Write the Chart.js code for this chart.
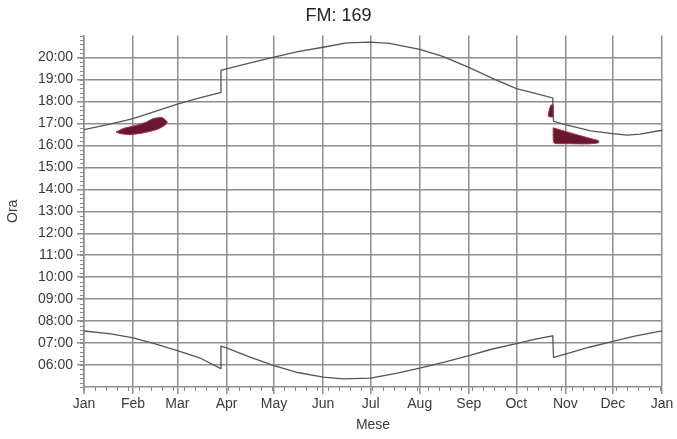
<!DOCTYPE html>
<html><head><meta charset="utf-8">
<script src="https://cdn.jsdelivr.net/npm/chart.js@4"></script>
<style>html,body{margin:0;padding:0;background:#fff}#wrap{width:677px;height:439px}</style>
</head><body><div id="wrap"><canvas id="c" width="677" height="439"></canvas></div>
<script>
const chartTitle = 'FM: 169';
const monthLabels = ['Jan','Feb','Mar','Apr','May','Jun','Jul','Aug','Sep','Oct','Nov','Dec','Jan'];
const monthStartDays = [0,31,59,90,120,151,181,212,243,273,304,334,365];
const hourTicks = [6,7,8,9,10,11,12,13,14,15,16,17,18,19,20];
const hourLabels = ['06:00','07:00','08:00','09:00','10:00','11:00','12:00','13:00','14:00','15:00','16:00','17:00','18:00','19:00','20:00'];

const sunsetDays  = [0, 15, 31, 45, 59, 73, 86, 86.5, 90, 105, 120, 135, 151, 166, 181, 193, 212, 227, 243, 258, 273, 285, 296, 296.5, 304, 320, 335, 343, 351, 365];
const sunsetHours = [16.72, 16.95, 17.22, 17.55, 17.88, 18.17, 18.40, 19.42, 19.48, 19.76, 20.02, 20.27, 20.47, 20.67, 20.70, 20.65, 20.37, 20.04, 19.55, 19.05, 18.59, 18.37, 18.16, 17.10, 16.95, 16.66, 16.53, 16.47, 16.51, 16.69];

const sunriseDays  = [0, 17, 31, 45, 59, 73, 86, 86.5, 90, 104, 120, 135, 151, 164, 181, 197, 212, 227, 243, 258, 273, 285, 296, 296.5, 304, 319, 334, 347, 365];
const sunriseHours = [7.55, 7.42, 7.24, 6.96, 6.66, 6.33, 5.85, 6.86, 6.78, 6.38, 5.97, 5.66, 5.45, 5.37, 5.40, 5.62, 5.86, 6.12, 6.43, 6.73, 6.98, 7.18, 7.33, 6.35, 6.50, 6.81, 7.08, 7.30, 7.56];

const blobFebDays  = [20.2, 24.8, 33.3, 39.6, 43.8, 49.1, 52.6, 51.1, 45.9, 37.4, 29.0, 22.7, 20.2];
const blobFebHours = [16.61, 16.77, 16.92, 17.07, 17.22, 17.27, 17.07, 16.92, 16.72, 16.57, 16.49, 16.54, 16.61];

const blobOctDays  = [294.7, 296.2, 296.2, 293.2, 293.6, 294.7];
const blobOctHours = [17.83, 17.85, 17.30, 17.33, 17.55, 17.83];

const blobNovDays  = [296.3, 300, 304.8, 312.1, 319.5, 324.8, 325, 318, 305, 297, 296.3, 296.3];
const blobNovHours = [16.80, 16.72, 16.62, 16.47, 16.32, 16.22, 16.12, 16.07, 16.08, 16.10, 16.30, 16.80];

const pts = (xs, ys) => xs.map((x, i) => ({x, y: ys[i]}));

const FONT = "'Liberation Sans', Arial, sans-serif";
const GRID = '#8e8e8e';

const minorTicks = {
  id: 'minorTicks',
  afterDraw(chart) {
    const {ctx, scales: {x, y}} = chart;
    ctx.save();
    ctx.strokeStyle = '#8a8a8a';
    ctx.lineWidth = 1;
    ctx.beginPath();
    for (let h = 5; h <= 21.0001; h += 0.2) {
      const py = Math.round(y.getPixelForValue(h)) + 0.5;
      ctx.moveTo(x.left - 4, py); ctx.lineTo(x.left, py);
    }
    for (let d = 0; d <= 365; d += 7) {
      const px = Math.round(x.getPixelForValue(d)) + 0.5;
      ctx.moveTo(px, y.bottom); ctx.lineTo(px, y.bottom + 4);
    }
    ctx.stroke();
    ctx.restore();
  }
};

const lineDs = (data) => ({data, borderColor: '#555', borderWidth: 1.3, pointRadius: 0, fill: false, tension: 0});
const blobDs = (data) => ({data, borderColor: '#a8304f', backgroundColor: '#6a1830', borderWidth: 1, pointRadius: 0, fill: 'shape', tension: 0.2});

new Chart(document.getElementById('c'), {
  type: 'line',
  data: {
    datasets: [
      lineDs(pts(sunsetDays, sunsetHours)),
      lineDs(pts(sunriseDays, sunriseHours)),
      blobDs(pts(blobFebDays, blobFebHours)),
      blobDs(pts(blobOctDays, blobOctHours)),
      blobDs(pts(blobNovDays, blobNovHours))
    ]
  },
  options: {
    responsive: false,
    animation: false,
    layout: {padding: 0},
    plugins: {
      legend: {display: false},
      tooltip: {enabled: false},
      title: {display: true, text: chartTitle, color: '#222', font: {family: FONT, size: 18, weight: 'normal'}, padding: {top: 5, bottom: 9}}
    },
    scales: {
      x: {
        type: 'linear', min: 0, max: 365,
        afterBuildTicks: s => { s.ticks = monthStartDays.map(v => ({value: v})); },
        afterFit: s => { s.height = 52; },
        ticks: {autoSkip: false, maxRotation: 0, padding: 2, color: '#3a3a3a', font: {family: FONT, size: 14},
          callback: (v, i) => monthLabels[i]},
        grid: {color: GRID, lineWidth: 1.5, tickLength: 7, tickColor: GRID},
        border: {color: GRID, width: 1.5},
        title: {display: true, text: 'Mese', color: '#3a3a3a', font: {family: FONT, size: 14}, padding: {top: 0, bottom: 5}}
      },
      y: {
        type: 'linear', min: 5, max: 21,
        afterBuildTicks: s => { s.ticks = hourTicks.map(v => ({value: v})); },
        afterFit: s => { s.width = 84; },
        ticks: {autoSkip: false, padding: 4, color: '#3a3a3a', font: {family: FONT, size: 14},
          callback: (v, i) => hourLabels[i]},
        grid: {color: GRID, lineWidth: 1.5, tickLength: 7, tickColor: GRID},
        border: {color: GRID, width: 1.5},
        title: {display: true, text: 'Ora', color: '#3a3a3a', font: {family: FONT, size: 14}, padding: {top: 5, bottom: 0}}
      },
      yr: {
        position: 'right', display: true,
        grid: {display: false}, ticks: {display: false}, border: {display: false},
        afterFit: s => { s.width = 15; }
      }
    }
  },
  plugins: [minorTicks]
});
</script>
</body></html>
